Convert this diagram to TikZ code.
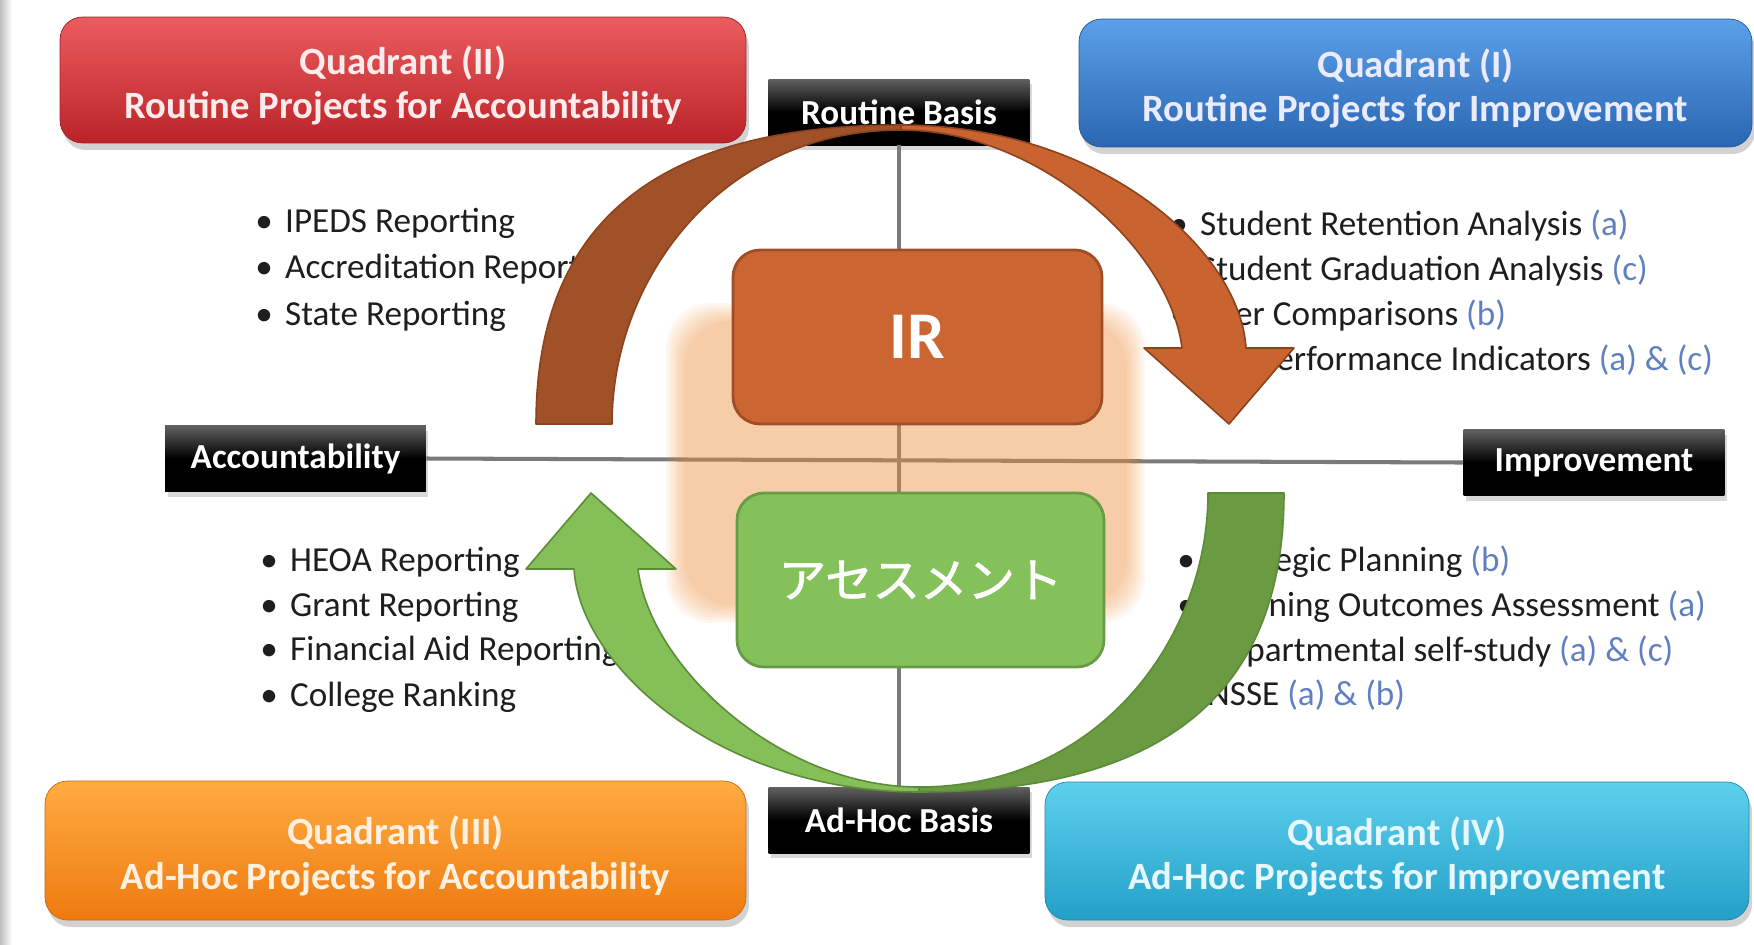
\documentclass[tikz,border=0pt]{standalone}
\usepackage{fontspec}
\setmainfont{Carlito}
\newfontfamily\jpfont[FakeBold=1.6]{Noto Sans CJK JP}
\usetikzlibrary{shadows}
\definecolor{txt}{RGB}{30,30,30}
\definecolor{abc}{RGB}{95,128,192}
\definecolor{qtwotop}{RGB}{236,92,94}
\definecolor{qtwobot}{RGB}{186,36,40}
\definecolor{qonetop}{RGB}{92,160,234}
\definecolor{qonebot}{RGB}{42,102,178}
\definecolor{qthrtop}{RGB}{255,172,66}
\definecolor{qthrbot}{RGB}{238,122,16}
\definecolor{qfoutop}{RGB}{94,208,238}
\definecolor{qfoubot}{RGB}{35,160,200}
\definecolor{irfill}{RGB}{203,102,50}
\definecolor{irline}{RGB}{160,78,37}
\definecolor{asfill}{RGB}{133,193,90}
\definecolor{asline}{RGB}{104,156,68}
\definecolor{peach}{RGB}{242,149,69}
\definecolor{taildark}{RGB}{161,81,40}
\definecolor{headlight}{RGB}{201,99,47}
\definecolor{arrline}{RGB}{140,66,28}
\definecolor{gtaildark}{RGB}{106,154,66}
\definecolor{gheadlight}{RGB}{132,191,87}
\definecolor{garrline}{RGB}{92,140,55}
\newcommand\qbul{\makebox[17pt][l]{•}}
\newcommand\ab[1]{\textcolor{abc}{#1}}
\newcommand\qtop{\rule{0pt}{22.5pt}}
\begin{document}
\begin{tikzpicture}[x=0.02cm, y=-0.02cm,
  quad/.style={rounded corners=0.45cm, inner sep=0pt, align=center,
    font=\fontsize{22}{25.5}\selectfont\bfseries,
    drop shadow={shadow xshift=0.06cm, shadow yshift=-0.14cm, opacity=0.35}},
  lab/.style={inner sep=0pt, text=white, font=\fontsize{20}{24}\selectfont\bfseries,
    top color=black!62, bottom color=black, middle color=black,
    drop shadow={shadow xshift=0.05cm, shadow yshift=-0.1cm, opacity=0.3},
    minimum width=5.22cm, minimum height=1.32cm},
  item/.style={anchor=base west, inner sep=0pt, font=\fontsize{20}{24}\selectfont, text=txt},
  axisline/.style={draw=black!52, line width=2.3pt},
  centerbox/.style={rounded corners=0.54cm, line width=1.6pt, inner sep=0pt, text=white}
]
\useasboundingbox (0,0) rectangle (1754,944);
\fill[white] (0,0) rectangle (1754,944);
\shade[left color=black!25, right color=white] (0,0) rectangle (12,944);

% axis labels
\node[lab] (routine) at (899,112) {Routine Basis};
\node[lab] (adhoc) at (899,820) {Ad-Hoc Basis};
\node[lab] (acc) at (295.5,458.5) {Accountability};
\node[lab] (imp) at (1594,462.5) {Improvement};
\draw[axisline] (routine.south) -- (adhoc.north);
\draw[axisline] (acc.east) -- (imp.west);

% quadrant boxes
\node[quad, minimum width=13.72cm, minimum height=2.52cm, top color=qtwotop, bottom color=qtwobot,
  draw=qtwobot!85!black, text=red!8!white] (q2) at (403,80) {\qtop Quadrant (II)\\Routine Projects for Accountability};
\node[quad, minimum width=13.46cm, minimum height=2.56cm, top color=qonetop, bottom color=qonebot,
  draw=qonebot!85!black, text=blue!8!white] (q1) at (1415.5,83) {\qtop Quadrant (I)\\Routine Projects for Improvement};
\node[quad, minimum width=14.02cm, minimum height=2.78cm, top color=qthrtop, bottom color=qthrbot,
  draw=qthrbot!85!black, text=orange!12!white] (q3) at (395.5,850.5) {\qtop Quadrant (III)\\Ad-Hoc Projects for Accountability};
\node[quad, minimum width=14.08cm, minimum height=2.76cm, top color=qfoutop, bottom color=qfoubot,
  draw=qfoubot!85!black, text=cyan!10!white] (q4) at (1397,851) {\qtop Quadrant (IV)\\Ad-Hoc Projects for Improvement};

% bullet lists
\node[item] (tl1) at (255,232) {\qbul IPEDS Reporting};
\node[item] (tl2) at (255,278) {\qbul Accreditation Reporting};
\node[item] (tl3) at (255,325) {\qbul State Reporting};
\node[item] (bl1) at (260,571) {\qbul HEOA Reporting};
\node[item] (bl2) at (260,616) {\qbul Grant Reporting};
\node[item] (bl3) at (260,660) {\qbul Financial Aid Reporting};
\node[item] (bl4) at (260,706) {\qbul College Ranking};
\node[item] (tr1) at (1170,235) {\qbul Student Retention Analysis \ab{(a)}};
\node[item] (tr2) at (1170,280) {\qbul Student Graduation Analysis \ab{(c)}};
\node[item] (tr3) at (1170,325) {\qbul Peer Comparisons \ab{(b)}};
\node[item] (tr4) at (1170,370) {\qbul Key Performance Indicators \ab{(a) \& (c)}};
\node[item] (br1) at (1177,571) {\qbul Strategic Planning \ab{(b)}};
\node[item] (br2) at (1177,616) {\qbul Learning Outcomes Assessment \ab{(a)}};
\node[item] (br3) at (1177,661) {\qbul Departmental self-study \ab{(a) \& (c)}};
\node[item] (br4) at (1177,705) {\qbul NSSE \ab{(a) \& (b)}};

% soft peach square
\foreach \i in {0,...,7}
  \fill[peach, opacity=0.072, rounded corners=0.9cm]
    (666+2.6*\i,303+2.6*\i) rectangle (1145-2.6*\i,623-2.6*\i);

% centre boxes
\node[centerbox, fill=irfill, draw=irline, minimum width=7.38cm, minimum height=3.48cm,
  font=\fontsize{38}{40}\selectfont\bfseries] (ir) at (917.5,337) {IR};
\node[centerbox, fill=asfill, draw=asline, minimum width=7.34cm, minimum height=3.48cm,
  font=\jpfont\fontsize{27}{30}\selectfont] (as) at (920.5,580) {アセスメント};

% brown cycle arrow (top)
\filldraw[fill=taildark, draw=arrline, line width=0.9pt, line join=round]
  (536,424) .. controls (536,220) and (660,125) .. (901,125) -- (901,130)
  .. controls (720,130) and (612,280) .. (612,424) -- cycle;
\filldraw[fill=headlight, draw=arrline, line width=0.9pt, line join=round]
  (901,125) .. controls (1100,125) and (1240,250) .. (1246,348) -- (1294,348) -- (1229,424)
  -- (1144,348) -- (1182,348) .. controls (1170,250) and (1040,130) .. (901,130) -- cycle;

% green cycle arrow (bottom)
\begin{scope}[rotate around={180:(910,458.5)}]
\filldraw[fill=gtaildark, draw=garrline, line width=0.9pt, line join=round]
  (536,424) .. controls (536,220) and (660,125) .. (901,125) -- (901,130)
  .. controls (720,130) and (612,280) .. (612,424) -- cycle;
\filldraw[fill=gheadlight, draw=garrline, line width=0.9pt, line join=round]
  (901,125) .. controls (1100,125) and (1240,250) .. (1246,348) -- (1294,348) -- (1229,424)
  -- (1144,348) -- (1182,348) .. controls (1170,250) and (1040,130) .. (901,130) -- cycle;
\end{scope}
\end{tikzpicture}
\end{document}
